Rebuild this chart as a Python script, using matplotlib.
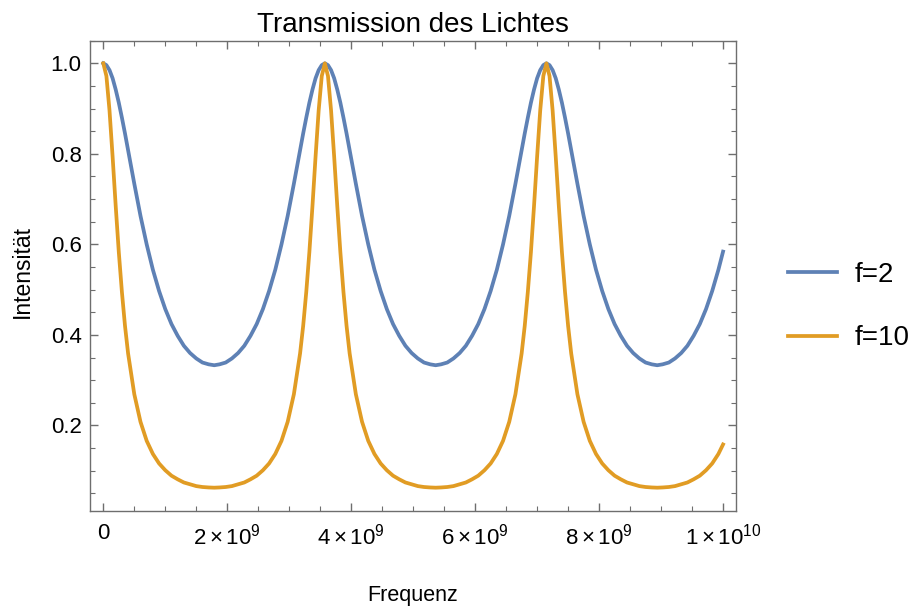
import matplotlib
matplotlib.use("Agg")
from matplotlib import pyplot as plt
from matplotlib.ticker import MultipleLocator, FixedLocator
import numpy as np

plt.rcParams['font.family'] = ['Liberation Sans', 'DejaVu Sans']
plt.rcParams['mathtext.fontset'] = 'custom'
plt.rcParams['mathtext.rm'] = 'Liberation Sans'
plt.rcParams['mathtext.it'] = 'Liberation Sans:italic'

# frequency in units of 1e9
freq_ghz = [
    0.0, 0.05, 0.1, 0.15, 0.2, 0.25, 0.3, 0.35, 0.4, 0.5, 0.6, 0.7, 0.8, 0.9,
    1.0, 1.1, 1.2, 1.3, 1.4, 1.5, 1.6, 1.7, 1.79,
    1.875, 1.975, 2.075, 2.175, 2.275, 2.375, 2.475, 2.575, 2.675, 2.775, 2.875,
    2.975, 3.075, 3.175, 3.225, 3.275, 3.325, 3.375, 3.425, 3.475, 3.525, 3.575,
    3.625, 3.675, 3.725, 3.775, 3.825, 3.875, 3.925, 3.975, 4.075, 4.175, 4.275,
    4.375, 4.475, 4.575, 4.675, 4.775, 4.875, 4.975, 5.075, 5.175, 5.275, 5.3625,
    5.45, 5.55, 5.65, 5.75, 5.85, 5.95, 6.05, 6.15, 6.25, 6.35, 6.45, 6.55, 6.65,
    6.75, 6.8, 6.85, 6.9, 6.95, 7.0, 7.05, 7.1, 7.15,
    7.2, 7.25, 7.3, 7.35, 7.4, 7.45, 7.5, 7.55, 7.65, 7.75, 7.85, 7.95, 8.05,
    8.15, 8.25, 8.35, 8.45, 8.55, 8.65, 8.75, 8.85, 8.9375,
    9.025, 9.125, 9.225, 9.325, 9.425, 9.525, 9.625, 9.725, 9.825, 9.925, 10.0,
]

intensity_f2 = [
    1.000, 0.996, 0.985, 0.967, 0.942, 0.913, 0.880, 0.845, 0.808, 0.734, 0.663,
    0.600, 0.544, 0.497, 0.457, 0.424, 0.398, 0.376, 0.360, 0.348, 0.339, 0.335, 0.333,
    0.335, 0.339, 0.348, 0.360, 0.376, 0.398, 0.424, 0.457, 0.497, 0.544, 0.600,
    0.663, 0.734, 0.808, 0.845, 0.880, 0.913, 0.942, 0.967, 0.985, 0.996, 1.000,
    0.996, 0.985, 0.967, 0.942, 0.913, 0.880, 0.845, 0.808, 0.734, 0.663, 0.600,
    0.544, 0.497, 0.457, 0.424, 0.398, 0.376, 0.360, 0.348, 0.339, 0.335, 0.333,
    0.335, 0.339, 0.348, 0.360, 0.376, 0.398, 0.424, 0.457, 0.497, 0.544, 0.600,
    0.663, 0.734, 0.808, 0.845, 0.880, 0.913, 0.942, 0.967, 0.985, 0.996, 1.000,
    0.996, 0.985, 0.967, 0.942, 0.913, 0.880, 0.845, 0.808, 0.734, 0.663, 0.600,
    0.544, 0.497, 0.457, 0.424, 0.398, 0.376, 0.360, 0.348, 0.339, 0.335, 0.333,
    0.335, 0.339, 0.348, 0.360, 0.376, 0.398, 0.424, 0.457, 0.497, 0.544, 0.584,
]

intensity_f10 = [
    1.000, 0.972, 0.896, 0.794, 0.685, 0.583, 0.495, 0.420, 0.359, 0.269, 0.208,
    0.166, 0.137, 0.116, 0.101, 0.089, 0.081, 0.074, 0.070, 0.066, 0.064, 0.063, 0.0625,
    0.063, 0.064, 0.066, 0.070, 0.074, 0.081, 0.089, 0.101, 0.116, 0.137, 0.166,
    0.208, 0.269, 0.359, 0.420, 0.495, 0.583, 0.685, 0.794, 0.896, 0.972, 1.000,
    0.972, 0.896, 0.794, 0.685, 0.583, 0.495, 0.420, 0.359, 0.269, 0.208, 0.166,
    0.137, 0.116, 0.101, 0.089, 0.081, 0.074, 0.070, 0.066, 0.064, 0.063, 0.0625,
    0.063, 0.064, 0.066, 0.070, 0.074, 0.081, 0.089, 0.101, 0.116, 0.137, 0.166,
    0.208, 0.269, 0.359, 0.420, 0.495, 0.583, 0.685, 0.794, 0.896, 0.972, 1.000,
    0.972, 0.896, 0.794, 0.685, 0.583, 0.495, 0.420, 0.359, 0.269, 0.208, 0.166,
    0.137, 0.116, 0.101, 0.089, 0.081, 0.074, 0.070, 0.066, 0.064, 0.063, 0.0625,
    0.063, 0.064, 0.066, 0.070, 0.074, 0.081, 0.089, 0.101, 0.116, 0.137, 0.158,
]

series_labels = ['f=2', 'f=10']
series_colors = ['#5e81b5', '#e19c24']

x_ticks = [0, 2e9, 4e9, 6e9, 8e9, 1e10]
x_tick_labels = ['0', r'$2\times10^{9}$', r'$4\times10^{9}$', r'$6\times10^{9}$',
                 r'$8\times10^{9}$', r'$1\times10^{10}$']
y_ticks = [0.2, 0.4, 0.6, 0.8, 1.0]
y_tick_labels = ['0.2', '0.4', '0.6', '0.8', '1.0']

fig = plt.figure(figsize=(9.21, 6.10), dpi=100)
ax = fig.add_axes([0.0977, 0.1623, 0.7015, 0.771])

freq = np.asarray(freq_ghz) * 1e9
for vals, lab, col in zip([intensity_f2, intensity_f10], series_labels, series_colors):
    ax.plot(freq, vals, color=col, lw=2.7, label=lab, solid_joinstyle='round')

ax.set_xlim(-2.15e8, 1.021e10)
ax.set_ylim(0.011, 1.05)

ax.xaxis.set_major_locator(FixedLocator(x_ticks))
ax.set_xticklabels(x_tick_labels)
ax.xaxis.set_minor_locator(MultipleLocator(5e8))
ax.yaxis.set_major_locator(FixedLocator(y_ticks))
ax.set_yticklabels(y_tick_labels)
ax.yaxis.set_minor_locator(MultipleLocator(0.05))

frame_col = '#6e6e6e'
for s in ax.spines.values():
    s.set_color(frame_col)
    s.set_linewidth(1.0)
ax.tick_params(which='both', direction='in', top=True, right=True,
               color=frame_col, labelsize=16, labelcolor='black')
ax.tick_params(which='major', length=6, width=1.0)
ax.tick_params(which='minor', length=3.5, width=0.8)
ax.tick_params(axis='x', which='major', pad=9)
ax.tick_params(axis='y', which='major', pad=6)

ax.set_title('Transmission des Lichtes', fontsize=20, pad=6)
ax.set_xlabel('Frequenz', fontsize=15.5)
ax.set_ylabel('Intensität', fontsize=16.5)
ax.xaxis.set_label_coords(0.5, -0.179)
ax.xaxis.label.set_va('center')
ax.yaxis.set_label_coords(-0.105, 0.51)
ax.yaxis.label.set_va('center')

fig.legend(loc='center left', bbox_to_anchor=(0.8556, 0.4975), frameon=False,
           fontsize=20, handlelength=1.75, handletextpad=0.65, labelspacing=1.35,
           borderpad=0, borderaxespad=0)

fig.savefig('out.png', dpi=100)
